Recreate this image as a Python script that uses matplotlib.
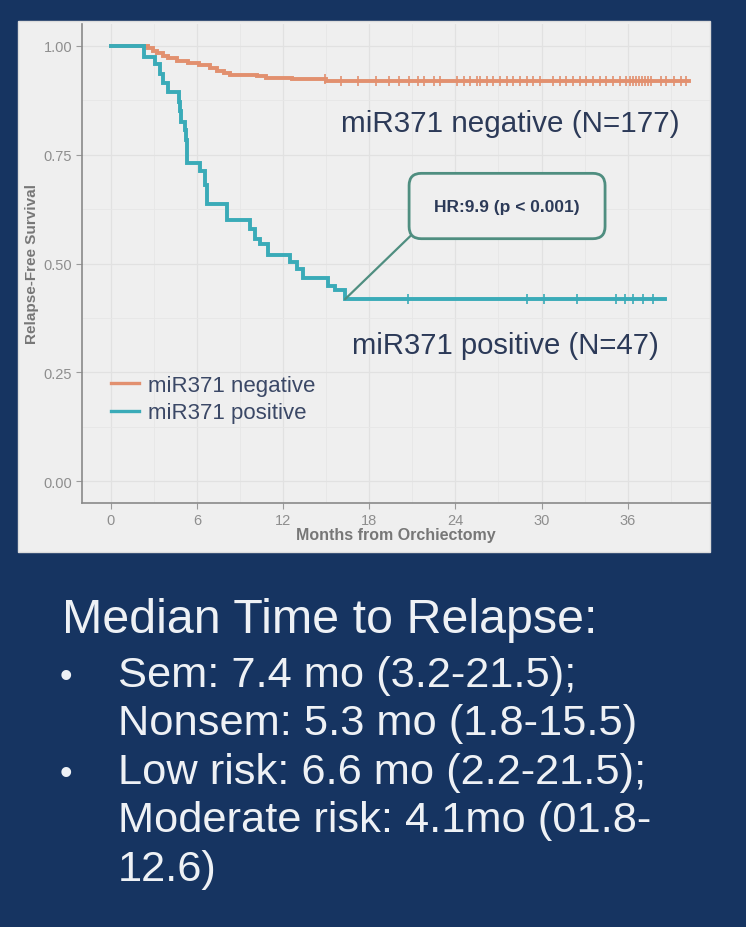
import numpy as np
import matplotlib.pyplot as plt
from matplotlib.patches import Rectangle
from matplotlib.lines import Line2D

plt.rcParams['font.family'] = ['Liberation Sans', 'DejaVu Sans']

# --- data ---
neg_times = [0, 2.6, 2.9, 3.2, 3.6, 4.0, 4.6, 5.4, 6.1, 6.9, 7.4, 7.9, 8.3, 10.2, 10.8, 12.6, 15.0, 19.5]
neg_surv = [1.0, 0.994, 0.989, 0.983, 0.977, 0.971, 0.966, 0.960, 0.955, 0.949, 0.943, 0.938, 0.934, 0.930, 0.926, 0.923, 0.920, 0.919]
neg_end = 40.3
neg_censor = [14.9, 16.0, 17.2, 18.5, 19.4, 20.1, 20.8, 21.4, 21.8, 22.5, 22.9, 24.1, 24.6, 25.0,
              25.5, 25.7, 26.2, 26.6, 27.1, 27.6, 28.0, 28.5, 29.0, 29.4, 29.9, 30.8, 31.3, 31.7,
              32.2, 32.7, 33.1, 33.6, 34.1, 34.5, 35.0, 35.5, 35.9, 36.2, 36.4, 36.6, 36.8, 37.0,
              37.2, 37.4, 37.6, 38.3, 38.7, 39.2, 39.7, 40.1]

pos_times = [0, 2.3, 3.07, 3.4, 3.65, 4.0, 4.72, 4.78, 4.85, 5.16, 5.22, 5.27, 5.32, 6.2, 6.55,
             6.72, 8.06, 9.69, 10.03, 10.38, 10.96, 12.47, 12.94, 13.4, 15.14, 15.61, 16.31]
pos_surv = [1.0, 0.974, 0.957, 0.936, 0.915, 0.894, 0.872, 0.851, 0.825, 0.806, 0.783, 0.758,
            0.730, 0.712, 0.681, 0.636, 0.601, 0.579, 0.557, 0.545, 0.520, 0.503, 0.487, 0.467,
            0.449, 0.440, 0.418]
pos_end = 38.6
pos_censor = [20.7, 29.0, 30.2, 32.5, 35.2, 35.8, 36.4, 37.1, 37.8]

labels = ['miR371 negative', 'miR371 positive']
group_text = ['miR371 negative (N=177)', 'miR371 positive (N=47)']
hr_text = 'HR:9.9 (p < 0.001)'
xticks = [0, 6, 12, 18, 24, 30, 36]
yticks = [0.00, 0.25, 0.50, 0.75, 1.00]

header = 'Median Time to Relapse:'
notes = [('\u2022', 'Sem: 7.4 mo (3.2-21.5);'),
         ('', 'Nonsem: 5.3 mo (1.8-15.5)'),
         ('\u2022', 'Low risk: 6.6 mo (2.2-21.5);'),
         ('', 'Moderate risk: 4.1mo (01.8-'),
         ('', '12.6)')]

navy = '#163461'
panel = '#efefef'
c_neg = '#e2906f'
c_pos = '#3aabb8'
txt = '#2c3a58'
white = '#eef1f5'

fig = plt.figure(figsize=(7.46, 9.28), dpi=100, facecolor=navy)
fig.patches.append(Rectangle((18 / 746, 1 - 553 / 928), 692 / 746, 531 / 928,
                             transform=fig.transFigure, facecolor=panel, edgecolor='#dcdcdc',
                             lw=1, zorder=-1))

ax = fig.add_axes([82 / 746, 1 - 504 / 928, 628 / 746, 479 / 928])
ax.set_facecolor('none')


def step_at(times, surv, t):
    idx = np.searchsorted(times, t, side='right') - 1
    return np.asarray(surv)[idx]


for times, surv, end, cens, col in [(neg_times, neg_surv, neg_end, neg_censor, c_neg),
                                    (pos_times, pos_surv, pos_end, pos_censor, c_pos)]:
    ax.step(np.append(times, end), np.append(surv, surv[-1]), where='post', color=col,
            lw=2.8, solid_joinstyle='miter', zorder=3)
    ax.plot(cens, step_at(times, surv, cens), ls='none', marker='|', ms=7, mew=1.2,
            color=col, zorder=3)

# grid
ax.set_xticks(xticks)
ax.set_yticks(yticks)
ax.set_xticks(np.arange(3, 42, 6), minor=True)
ax.set_yticks([0.125, 0.375, 0.625, 0.875], minor=True)
ax.set_xlim(-2.02, 41.74)
ax.set_ylim(-0.05, 1.05)
ax.grid(which='major', color='#e1e1e1', lw=0.9)
ax.grid(which='minor', color='#e6e6e6', lw=0.6)
ax.set_axisbelow(True)
ax.set_xticklabels([str(v) for v in xticks])
ax.set_yticklabels([f'{v:.2f}' for v in yticks])
ax.tick_params(which='major', colors='#9a9a9a', labelcolor='#8e8e8e', labelsize=10.5, length=4,
               width=0.8, pad=3)
ax.tick_params(which='minor', length=0)
for s in ['top', 'right']:
    ax.spines[s].set_visible(False)
for s in ['left', 'bottom']:
    ax.spines[s].set_color('#8a8a8a')
    ax.spines[s].set_linewidth(1.2)
ax.set_xlabel('Months from Orchiectomy', color='#777777', fontsize=11.5, fontweight='bold',
              labelpad=0)
ax.set_ylabel('Relapse-Free Survival', color='#777777', fontsize=11, fontweight='bold',
              labelpad=3)

# group labels
ax.text(27.8, 0.822, group_text[0], ha='center', va='center', fontsize=21.3, color=txt)
ax.text(27.5, 0.313, group_text[1], ha='center', va='center', fontsize=21.1, color=txt)

# HR callout
ax.annotate(hr_text, xy=(pos_times[-1], pos_surv[-1]), xytext=(27.6, 0.632),
            ha='center', va='center', fontsize=12.5, fontweight='bold', color=txt,
            bbox=dict(boxstyle='round,pad=1.45,rounding_size=0.7', fc=panel, ec='#4f8e80', lw=2),
            arrowprops=dict(arrowstyle='-', color='#4f8e80', lw=1.6, relpos=(0.0, 0.04),
                            shrinkA=0, shrinkB=0))

# legend
handles = [Line2D([], [], color=c_neg, lw=2.4), Line2D([], [], color=c_pos, lw=2.4)]
leg = ax.legend(handles, labels, loc='center left', bbox_to_anchor=(0.015, 0.217), frameon=False,
                fontsize=16, handlelength=1.25, handletextpad=0.4, labelspacing=0.3)
for t in leg.get_texts():
    t.set_color('#3b4866')

# notes under chart
fig.text(62 / 746, 1 - 633 / 928, header, ha='left', va='baseline', fontsize=34.8, color=white)
for i, (bullet, line) in enumerate(notes):
    y = 1 - (687 + i * 48.4) / 928
    if bullet:
        fig.text(60 / 746, y, bullet, ha='left', va='baseline', fontsize=26, color=white)
    fig.text(118 / 746, y, line, ha='left', va='baseline', fontsize=31.2, color=white)

fig.savefig('out.png', dpi=100, facecolor=navy)
